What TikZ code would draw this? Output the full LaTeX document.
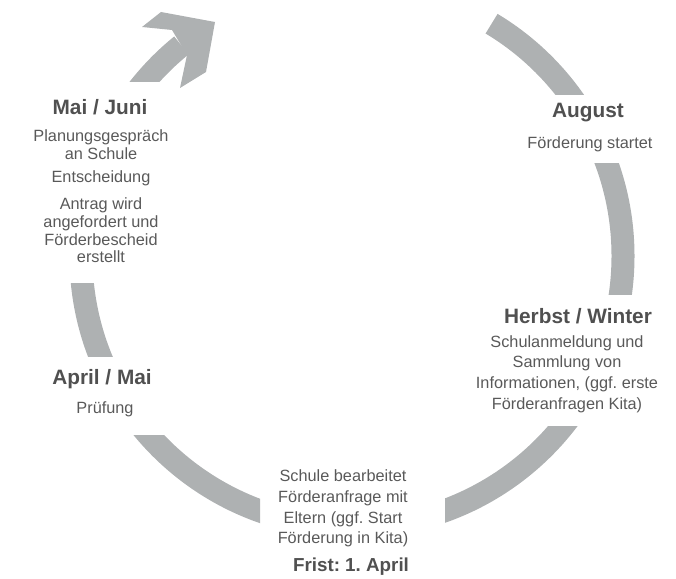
\documentclass[tikz,border=0pt]{standalone}
\usepackage{fontspec}
\setmainfont{Liberation Sans}
\definecolor{ringgray}{RGB}{174,177,178}
\definecolor{headgray}{RGB}{80,80,80}
\definecolor{textgray}{RGB}{89,89,89}
\frenchspacing

\begin{document}
\begin{tikzpicture}[x=1pt,y=1pt]
  \tikzstyle{ring}=[draw=ringgray,line width=23pt]
  \tikzstyle{title}=[font=\bfseries\fontsize{20.8}{24}\selectfont,text=headgray]
  \tikzstyle{info}=[font=\fontsize{16.3}{17.7}\selectfont,text=textgray,align=center]
  \tikzstyle{infowide}=[info,font=\fontsize{16.3}{20.8}\selectfont]
  \useasboundingbox (0,0) rectangle (676,578);
  \coordinate (C) at (352,322);
  \begin{scope}
    \clip (352,483) rectangle (676,578);
    \draw[ring] (C) ++(59:271) arc (59:0:271);
  \end{scope}
  \begin{scope}
    \clip (352,283) rectangle (676,414);
    \draw[ring] (C) circle (271);
  \end{scope}
  \begin{scope}
    \clip (445,0) rectangle (676,152);
    \draw[ring] (C) circle (271);
  \end{scope}
  \begin{scope}
    \clip (0,0) rectangle (260,143);
    \draw[ring] (C) circle (271);
  \end{scope}
  \begin{scope}
    \clip (0,221) rectangle (352,294);
    \draw[ring] (C) circle (271);
  \end{scope}
  \begin{scope}
    \clip (0,496) rectangle (352,578);
    \draw[ring] (C) ++(150:271) arc (150:129:271);
  \end{scope}
  \fill[ringgray] (172,548) -- (142,551) -- (161,566) -- (215,556) -- (206,506) -- (180,490) -- (187,523) -- cycle;

  \node[title] (maijuni) at (100,471) {Mai / Juni};
  \node[info] (planung) at (101,433) {Planungsgespräch\\an Schule};
  \node[info] (entscheid) at (101,400) {Entscheidung};
  \node[info] (antrag) at (101,347.5) {Antrag wird\\angefordert und\\Förderbescheid\\erstellt};
  \node[title] (august) at (588,465) {August};
  \node[info] (start) at (590,434) {Förderung startet};
  \node[title] (herbst) at (578,262) {Herbst / Winter};
  \node[infowide] (anmeldung) at (567,204) {Schulanmeldung und\\Sammlung von\\Informationen, (ggf. erste\\Förderanfragen Kita)};
  \node[title] (aprilmai) at (102,199) {April / Mai};
  \node[info] (pruefung) at (105,169) {Prüfung};
  \node[infowide] (anfrage) at (343,69.5) {Schule bearbeitet\\Förderanfrage mit\\Eltern (ggf. Start\\Förderung in Kita)};
  \node[title,font=\bfseries\fontsize{18.8}{22}\selectfont] (frist) at (351,11) {Frist: 1. April};
\end{tikzpicture}
\end{document}
